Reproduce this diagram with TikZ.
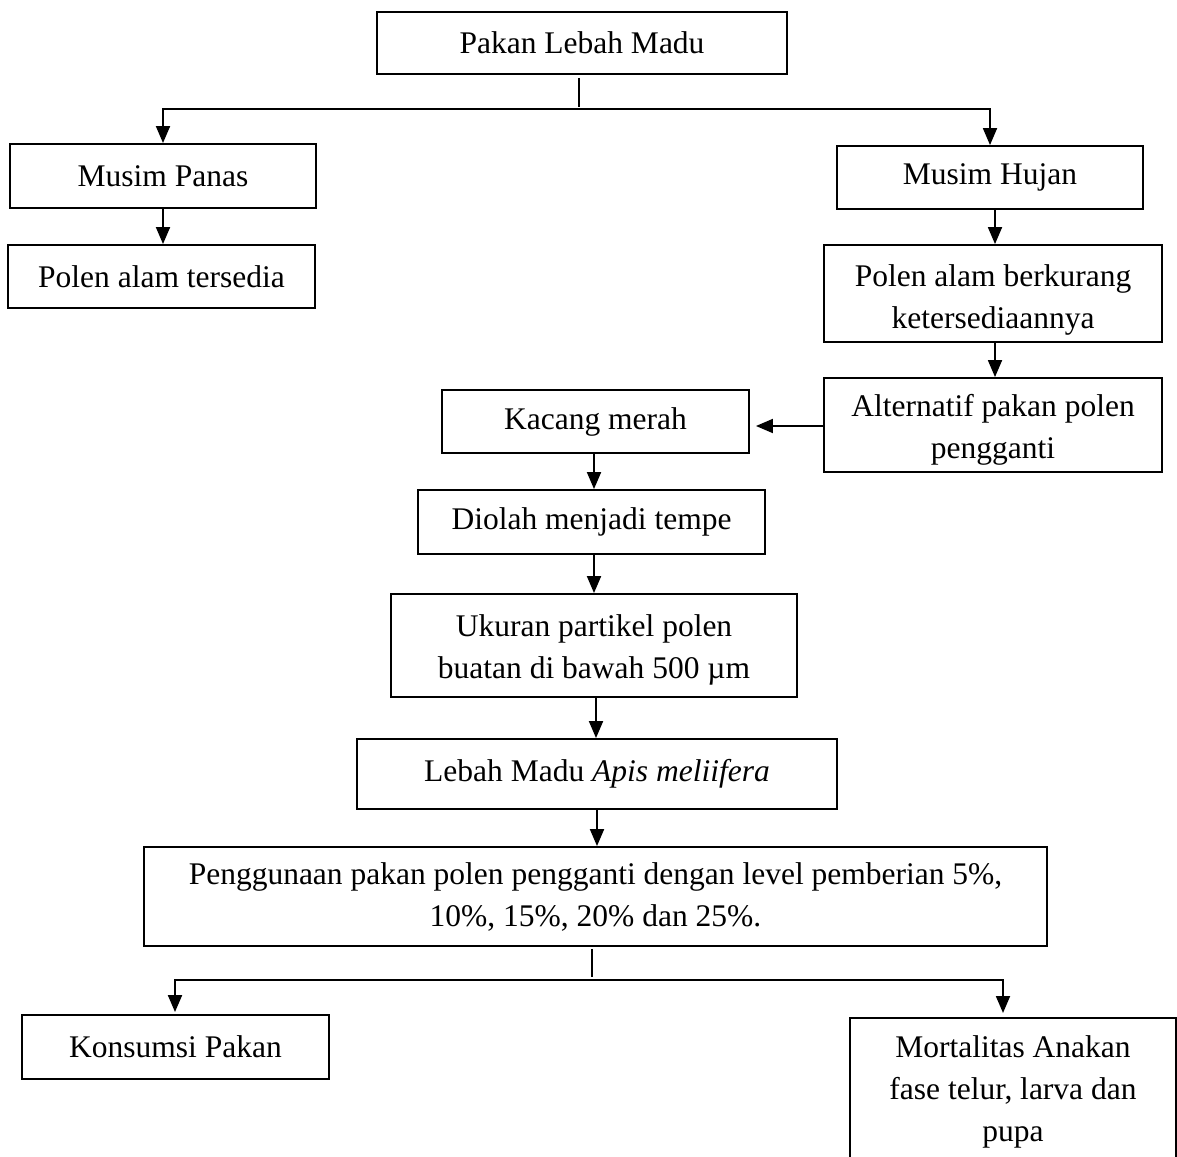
\documentclass[tikz,border=0pt]{standalone}
\usepackage{fontspec}
\setmainfont{Liberation Serif}
\usetikzlibrary{arrows.meta,calc}
\begin{document}
\begin{tikzpicture}[x=1pt,y=-1pt,
  box/.style={draw=black, line width=1.9pt, inner sep=0pt, align=center,
    font=\fontsize{31.5}{42}\selectfont},
  txt/.style={inner sep=0pt, align=center, font=\fontsize{31.5}{42}\selectfont},
  arr/.style={line width=1.9pt, -{Triangle[length=17pt,width=14pt]}},
  ln/.style={line width=1.9pt}]
\useasboundingbox (0,0) rectangle (1177,1156);
\clip (0,0) rectangle (1177,1156);
\fill[white] (0,0) rectangle (1177,1156);
% boxes
\node[box, minimum width=410pt, minimum height=62pt] (top) at (582,43) {Pakan Lebah Madu};
\node[box, minimum width=306pt, minimum height=64pt] (panas) at (163,176) {Musim Panas};
\node[box, minimum width=307pt, minimum height=63pt] (tersedia) at (161.5,276.5) {Polen alam tersedia};
\node[box, minimum width=306pt, minimum height=63pt] (hujan) at (990,177.5) {Musim Hujan};
\node[box, minimum width=338pt, minimum height=97pt] (berkurang) at (993,293.5) {};
\node[txt] (berkurangT) at ($(berkurang)+(0,6)$) {Polen alam berkurang\\ketersediaannya};
\node[box, minimum width=338pt, minimum height=94pt] (alt) at (993,425) {};
\node[txt] (altT) at ($(alt)+(0,5)$) {Alternatif pakan polen\\pengganti};
\node[box, minimum width=307pt, minimum height=63pt] (kacang) at (595.5,421.5) {Kacang merah};
\node[box, minimum width=347pt, minimum height=64pt] (diolah) at (591.5,522) {Diolah menjadi tempe};
\node[box, minimum width=406pt, minimum height=103pt] (ukuran) at (594,645.5) {};
\node[txt] (ukuranT) at ($(ukuran)+(0,4)$) {Ukuran partikel polen\\buatan di bawah 500 µm};
\node[box, minimum width=480pt, minimum height=70pt] (apis) at (597,774) {Lebah Madu \textit{Apis meliifera}};
\node[box, minimum width=903pt, minimum height=99pt] (guna) at (595.5,896.5) {Penggunaan pakan polen pengganti dengan level pemberian 5\%,\\10\%, 15\%, 20\% dan 25\%.};
\node[box, minimum width=307pt, minimum height=64pt] (konsumsi) at (175.5,1047) {Konsumsi Pakan};
\node[box, minimum width=326pt, minimum height=148pt, anchor=north] (mort) at (1013,1017) {Mortalitas Anakan\\fase telur, larva dan\\pupa};
% connectors
\coordinate (j1) at (579,109);
\draw[ln] ($(top.south -| j1)+(0,3)$) -- ($(j1)+(0,-2)$);
\draw[arr] (j1) -| (panas.north);
\draw[arr] (j1) -| (hujan.north);
\draw[arr] (panas.south) -- (panas.south |- tersedia.north);
\draw[arr] ($(hujan.south)+(5,0)$) -- ($(hujan.south |- berkurang.north)+(5,0)$);
\draw[arr] ($(berkurang.south)+(2,0)$) -- ($(berkurang.south |- alt.north)+(2,0)$);
\draw[arr, shorten >=6pt] ($(alt.west)+(0,1)$) -- ($(alt.west -| kacang.east)+(0,1)$);
\draw[arr] ($(kacang.south)+(-1.5,0)$) -- ($(kacang.south |- diolah.north)+(-1.5,0)$);
\draw[arr] ($(diolah.south)+(2.5,0)$) -- ($(diolah.south |- ukuran.north)+(2.5,0)$);
\draw[arr] ($(ukuran.south)+(2,0)$) -- ($(ukuran.south |- apis.north)+(2,0)$);
\draw[arr] (apis.south) -- (apis.south |- guna.north);
\coordinate (j2) at (592,980);
\draw[ln] ($(guna.south -| j2)+(0,2)$) -- ($(j2)+(0,-3)$);
\draw[arr] (j2) -| ($(konsumsi.north)+(-0.5,-2)$);
\draw[arr] (j2) -| ($(mort.north)+(-10,-4)$);
\end{tikzpicture}
\end{document}
